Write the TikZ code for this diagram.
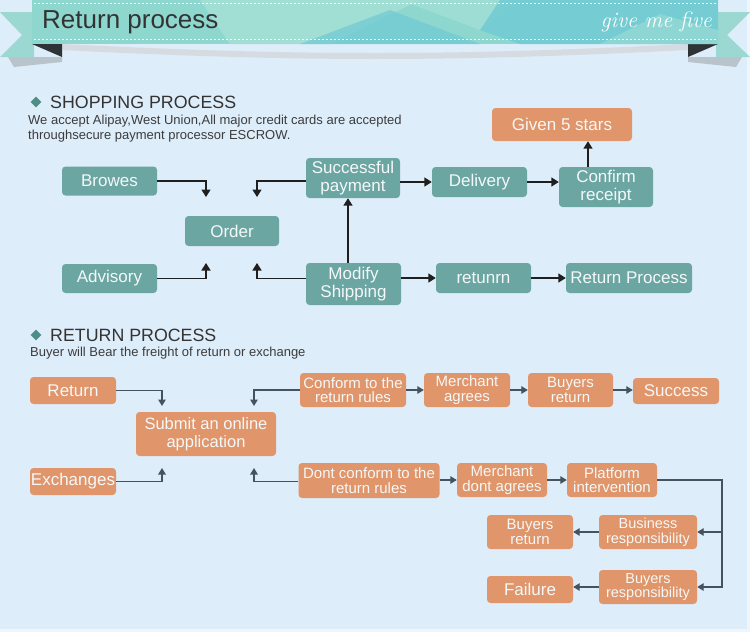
\documentclass[tikz,border=0pt]{standalone}
\usepackage{fontspec}
\setmainfont{Liberation Sans}
\newfontfamily\logofont{Latin Modern Roman}
\usetikzlibrary{arrows.meta,shapes.geometric}
\definecolor{bg}{HTML}{DEEDFA}
\definecolor{bgedge}{HTML}{EEF6FD}
\definecolor{tealbox}{HTML}{6BA6A3}
\definecolor{orangebox}{HTML}{E0956A}
\definecolor{boxtext}{HTML}{F4F8F8}
\definecolor{headtext}{HTML}{333333}
\definecolor{desctext}{HTML}{3C3C3C}
\definecolor{diam}{HTML}{4F8E86}
\definecolor{rline}{HTML}{46525E}
\definecolor{bannerbase}{HTML}{8DD7CE}
\definecolor{bannerlight}{HTML}{A6E0D6}
\definecolor{bannerdark}{HTML}{6FCAD3}
\definecolor{tail}{HTML}{9AD8D1}
\definecolor{fold}{HTML}{2E3436}
\definecolor{shadow}{HTML}{B9C3CC}
\begin{document}
\begin{tikzpicture}[x=1pt,y=-1pt,
  tbox/.style={rectangle, rounded corners=3.5pt, fill=tealbox, text=boxtext, align=center, inner sep=0pt, font=\fontsize{17}{18}\selectfont},
  obox/.style={rectangle, rounded corners=3.5pt, fill=orangebox, text=boxtext, align=center, inner sep=0pt, font=\fontsize{17}{18}\selectfont},
  otwo/.style={obox, font=\fontsize{15}{14.5}\selectfont},
  othree/.style={obox, font=\fontsize{14.5}{14.5}\selectfont},
  sarr/.style={draw=black!88, line width=1.5pt, -{Triangle[width=9pt,length=7.5pt]}},
  rarr/.style={draw=rline, line width=1.3pt, -{Triangle[width=7.5pt,length=6.5pt]}},
  head/.style={anchor=west, text=headtext, inner sep=0pt, font=\fontsize{17.8}{19}\selectfont},
  desc/.style={anchor=west, text=desctext, inner sep=0pt, font=\fontsize{13}{14}\selectfont},
  diamond mark/.style={diamond, fill=diam, inner sep=0pt, minimum width=11pt, minimum height=11pt}
]
\useasboundingbox (0,0) rectangle (750,632);
% background
\fill[bgedge] (0,0) rectangle (750,632);
\fill[bg] (0,0) rectangle (747,629);

% ---- banner ----
\fill[shadow] (8,57) -- (62,57) -- (62,62) -- (14,67) -- cycle;
\fill[shadow] (742,57) -- (688,57) -- (688,62) -- (736,67) -- cycle;
\fill[shadow!60] (62,44) .. controls (300,56) and (450,56) .. (688,44) -- (688,50) .. controls (450,62) and (300,62) .. (62,50) -- cycle;
\fill[tail] (0,12) -- (34,12) -- (34,57) -- (0,57) -- (22,35) -- cycle;
\fill[tail] (750,12) -- (716,12) -- (716,57) -- (750,57) -- (727,35) -- cycle;
\fill[fold] (32,44) -- (62,44) -- (62,57) -- cycle;
\fill[fold] (718,44) -- (688,44) -- (688,57) -- cycle;
\fill[bannerbase] (32,0) rectangle (718,44);
\fill[bannerlight, opacity=0.8] (200,0) -- (420,0) -- (330,44) -- (230,44) -- cycle;
\fill[bannerdark, opacity=0.7] (300,44) -- (390,10) -- (480,44) -- cycle;
\fill[bannerlight, opacity=0.7] (400,0) -- (520,0) -- (480,30) -- cycle;
\fill[bannerdark, opacity=0.8] (500,0) -- (718,0) -- (718,44) -- (520,44) -- (480,30) -- cycle;
\fill[bannerlight, opacity=0.5] (600,44) -- (660,14) -- (718,30) -- (718,44) -- cycle;
\draw[white, dashed, line width=0.6pt, dash pattern=on 2pt off 2pt] (34,3) -- (716,3);
\draw[white, dashed, line width=0.6pt, dash pattern=on 2pt off 2pt] (34,39) -- (716,39);
\node[anchor=west, inner sep=0pt, text=headtext, font=\fontsize{26}{27}\selectfont] (title) at (42,22) {Return process};
\node[anchor=east, inner sep=0pt, text=white, font=\logofont\fontsize{22}{22}\selectfont\itshape] (logo) at (712,22) {give me five};

% ---- shopping process ----
\node[diamond mark] (d1) at (36,102) {};
\node[head] (h1) at (50,102) {SHOPPING PROCESS};
\node[desc] (t1) at (28,121) {We accept Alipay,West Union,All major credit cards are accepted};
\node[desc] (t2) at (28,136) {throughsecure payment processor ESCROW.};

\node[tbox, minimum width=95pt, minimum height=29pt] (browes) at (109.5,181) {Browes};
\node[tbox, minimum width=94pt, minimum height=30pt] (order) at (232,231) {Order};
\node[tbox, minimum width=95pt, minimum height=29pt] (advisory) at (109.5,278.5) {Advisory};
\node[tbox, minimum width=94pt, minimum height=40pt] (succ) at (353,178) {Successful\\payment};
\node[tbox, minimum width=95pt, minimum height=42pt] (modify) at (353.5,284) {Modify\\Shipping};
\node[tbox, minimum width=95pt, minimum height=30pt] (delivery) at (479.5,182) {Delivery};
\node[tbox, minimum width=94pt, minimum height=40pt] (confirm) at (606,187) {Confirm\\receipt};
\node[obox, minimum width=140pt, minimum height=33pt] (given) at (562,124.5) {Given 5 stars};
\node[tbox, minimum width=95pt, minimum height=30pt] (retunrn) at (483.5,278) {retunrn};
\node[tbox, minimum width=126pt, minimum height=30pt] (retproc) at (629,278) {Return Process};

\coordinate (a1) at (206,197);
\coordinate (a2) at (257,197);
\coordinate (a3) at (206,263);
\coordinate (a4) at (257,263);
\coordinate (a5) at (348,0);
\coordinate (a6) at (588,0);
\draw[sarr] (browes.east) -| (a1);
\draw[sarr] (succ.west |- browes.east) -| (a2);
\draw[sarr] (advisory.east) -| (a3);
\draw[sarr] (modify.west |- advisory.east) -| (a4);
\draw[sarr] (modify.north -| a5) -- (succ.south -| a5);
\draw[sarr] (succ.east |- delivery.west) -- (delivery.west);
\draw[sarr] (delivery.east) -- (confirm.west |- delivery.east);
\draw[sarr] (confirm.north -| a6) -- (given.south -| a6);
\draw[sarr] (modify.east |- retunrn.west) -- (retunrn.west);
\draw[sarr] (retunrn.east) -- (retproc.west);

% ---- return process ----
\node[diamond mark] (d2) at (36,335) {};
\node[head] (h2) at (50,335) {RETURN PROCESS};
\node[desc] (t3) at (30,353) {Buyer will Bear the freight of return or exchange};

\node[obox, minimum width=86pt, minimum height=27pt] (ret) at (73,390.5) {Return};
\node[obox, font=\fontsize{16.5}{18}\selectfont, minimum width=140pt, minimum height=44pt] (submit) at (206,434) {Submit an online\\application};
\node[obox, minimum width=86pt, minimum height=27pt] (exch) at (73,481.5) {Exchanges};
\node[otwo, minimum width=106pt, minimum height=34pt] (conform) at (353,390) {Conform to the\\return rules};
\node[otwo, minimum width=86pt, minimum height=34pt] (magree) at (467,390) {Merchant\\agrees};
\node[otwo, minimum width=85pt, minimum height=34pt] (breturn) at (570.5,390) {Buyers\\return};
\node[obox, minimum width=86pt, minimum height=26pt] (success) at (676,391) {Success};
\node[otwo, minimum width=141pt, minimum height=35pt] (dconform) at (369,480.5) {Dont conform to the\\return rules};
\node[otwo, minimum width=90pt, minimum height=34pt] (mdont) at (502,480) {Merchant\\dont agrees};
\node[otwo, minimum width=90pt, minimum height=34pt] (platform) at (612,480) {Platform\\intervention};
\node[othree, minimum width=98pt, minimum height=34pt] (business) at (648,532) {Business\\responsibility};
\node[otwo, minimum width=86pt, minimum height=34pt] (breturn2) at (530,532) {Buyers\\return};
\node[othree, minimum width=98pt, minimum height=34pt] (buyresp) at (648,587) {Buyers\\responsibility};
\node[obox, minimum width=86pt, minimum height=27pt] (failure) at (530,589.5) {Failure};

\coordinate (b1) at (162,406);
\coordinate (b2) at (254,406);
\coordinate (b3) at (162,468);
\coordinate (b4) at (254,468);
\coordinate (b5) at (722,0);
\draw[rarr] (ret.east) -| (b1);
\draw[rarr] (conform.west) -| (b2);
\draw[rarr] (exch.east) -| (b3);
\draw[rarr] (dconform.west |- exch.east) -| (b4);
\draw[rarr] (conform.east) -- (magree.west);
\draw[rarr] (magree.east) -- (breturn.west);
\draw[rarr] (breturn.east) -- (success.west |- breturn.east);
\draw[rarr] (dconform.east |- mdont.west) -- (mdont.west);
\draw[rarr] (mdont.east) -- (platform.west);
\draw[rarr] (platform.east) -| (b5 |- buyresp.east) -- (buyresp.east);
\draw[rarr] (b5 |- business.east) -- (business.east);
\draw[rarr] (business.west) -- (breturn2.east);
\draw[rarr] (buyresp.west) -- (failure.east |- buyresp.west);
\end{tikzpicture}
\end{document}
